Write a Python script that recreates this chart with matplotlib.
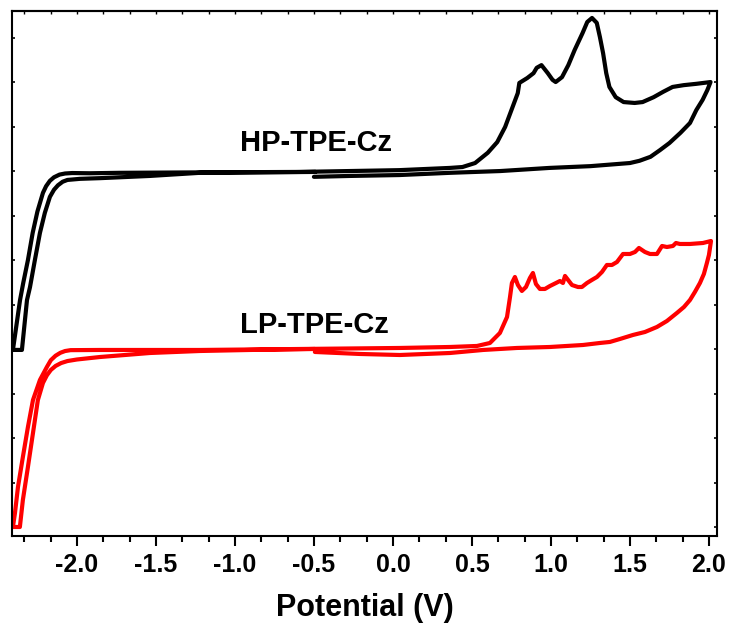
import matplotlib
matplotlib.use("Agg")
import matplotlib.pyplot as plt
from matplotlib.ticker import MultipleLocator, AutoMinorLocator, NullFormatter

plt.rcParams['font.family'] = ['Liberation Sans', 'DejaVu Sans']
plt.rcParams['font.weight'] = 'bold'

# HP-TPE-Cz: forward scan from -0.5 V, return scan, second sweep back
hp_x = [-0.50, -0.27, 0.04, 0.36, 0.68, 0.99, 1.25, 1.50, 1.56, 1.63, 1.69, 1.75, 1.82, 1.88, 1.92, 1.96, 1.99, 2.01,
        1.92, 1.84, 1.77, 1.71, 1.65, 1.58, 1.53, 1.46, 1.41, 1.37, 1.35, 1.33, 1.31, 1.29, 1.26, 1.23, 1.20,
        1.15, 1.11, 1.07, 1.03, 1.01, 0.98, 0.94, 0.91, 0.89, 0.85, 0.80, 0.79, 0.75, 0.71, 0.66, 0.60, 0.52,
        0.44, 0.36, 0.04, -0.59, -1.22, -1.73, -1.92, -2.03, -2.075, -2.11, -2.145, -2.171, -2.195, -2.215,
        -2.25, -2.28, -2.31, -2.34, -2.36, -2.405,
        -2.348, -2.316, -2.297, -2.266, -2.234, -2.203, -2.171, -2.145, -2.12, -2.09, -2.06, -1.98, -1.854,
        -1.538, -1.222, -0.49]
hp_y = [7.88, 7.90, 7.92, 7.97, 8.01, 8.08, 8.12, 8.19, 8.24, 8.33, 8.48, 8.64, 8.87, 9.09, 9.38, 9.61, 9.83, 10.01,
        9.97, 9.94, 9.90, 9.79, 9.67, 9.56, 9.54, 9.56, 9.67, 9.90, 10.21, 10.66, 11.02, 11.34, 11.45, 11.36, 11.11,
        10.73, 10.39, 10.12, 10.01, 10.06, 10.21, 10.39, 10.33, 10.21, 10.10, 9.99, 9.76, 9.38, 9.00, 8.66, 8.42, 8.19,
        8.10, 8.08, 8.03, 7.99, 7.98, 7.97, 7.96, 7.965, 7.955, 7.93, 7.87, 7.79, 7.67, 7.52,
        7.10, 6.62, 6.01, 5.49, 5.11, 3.99,
        3.99, 5.11, 5.40, 6.01, 6.62, 7.07, 7.43, 7.59, 7.69, 7.77, 7.81, 7.835, 7.85,
        7.90, 7.97, 7.99]

# LP-TPE-Cz
lp_x = [-0.494, -0.209, 0.044, 0.361, 0.570, 0.785, 0.994, 1.203, 1.310, 1.373, 1.437, 1.519, 1.595, 1.671, 1.734,
        1.797, 1.842, 1.880, 1.911, 1.943, 1.968, 1.987, 2.000, 2.013,
        1.962, 1.880, 1.816, 1.791, 1.772, 1.734, 1.703, 1.671, 1.627, 1.595, 1.557, 1.532, 1.500, 1.456, 1.418,
        1.386, 1.354, 1.323, 1.291, 1.259, 1.228, 1.196, 1.171, 1.133, 1.089, 1.076, 1.057, 1.032, 0.994, 0.962,
        0.930, 0.905, 0.886, 0.867, 0.842, 0.816, 0.791, 0.772, 0.753, 0.741, 0.722, 0.677, 0.614, 0.532, 0.361,
        0.044, -0.589, -1.222, -1.854, -2.040, -2.075, -2.105, -2.135, -2.165, -2.190, -2.234, -2.278, -2.310,
        -2.342, -2.373, -2.392, -2.405,
        -2.361, -2.342, -2.310, -2.278, -2.247, -2.215, -2.190, -2.165, -2.135, -2.100, -2.060, -2.000, -1.854,
        -1.538, -1.222, -0.905, -0.494]
lp_y = [3.944, 3.899, 3.876, 3.921, 3.989, 4.034, 4.056, 4.101, 4.146, 4.169, 4.236, 4.326, 4.393, 4.506, 4.640,
        4.820, 4.955, 5.112, 5.292, 5.494, 5.697, 5.944, 6.124, 6.438,
        6.393, 6.371, 6.371, 6.393, 6.326, 6.303, 6.326, 6.146, 6.146, 6.191, 6.281, 6.191, 6.146, 6.146, 5.966,
        5.899, 5.899, 5.742, 5.629, 5.562, 5.494, 5.404, 5.404, 5.449, 5.652, 5.494, 5.539, 5.494, 5.427, 5.360,
        5.360, 5.472, 5.719, 5.607, 5.404, 5.315, 5.449, 5.629, 5.494, 5.180, 4.730, 4.371, 4.146, 4.079, 4.056,
        4.034, 4.011, 3.989, 3.989, 3.985, 3.965, 3.925, 3.860, 3.760, 3.607, 3.315, 2.865, 2.258,
        1.584, 0.910, 0.326, 0.011,
        0.011, 0.618, 1.360, 2.124, 2.865, 3.247, 3.420, 3.540, 3.630, 3.695, 3.740, 3.775, 3.831,
        3.921, 3.966, 3.989, 4.011]

fig = plt.figure(figsize=(7.30, 6.31), dpi=100)
ax = fig.add_axes([0.0164, 0.1506, 0.9658, 0.832])

ax.plot(hp_x, hp_y, color='black', lw=3.0, solid_joinstyle='round', solid_capstyle='round')
ax.plot(lp_x, lp_y, color='#ff0000', lw=3.0, solid_joinstyle='round', solid_capstyle='round')

ax.text(-0.49, 8.64, 'HP-TPE-Cz', fontsize=21, fontweight='bold', ha='center', va='center')
ax.text(-0.50, 4.55, 'LP-TPE-Cz', fontsize=21, fontweight='bold', ha='center', va='center')

ax.set_xlim(-2.411, 2.051)
ax.set_ylim(-0.191, 11.607)

ax.xaxis.set_major_locator(MultipleLocator(0.5))
ax.xaxis.set_minor_locator(AutoMinorLocator(3))
ax.xaxis.set_major_formatter(plt.FuncFormatter(lambda v, p: f'{v:.1f}'))
ax.yaxis.set_major_locator(MultipleLocator(1))
ax.yaxis.set_major_formatter(NullFormatter())

ax.tick_params(axis='x', which='major', direction='out', length=7, width=1.5, labelsize=18, pad=5)
ax.tick_params(axis='x', which='minor', direction='out', length=4.5, width=1.5)
ax.tick_params(axis='y', which='major', direction='in', length=2.5, width=1.2, left=True, right=True)
for lab in ax.get_xticklabels():
    lab.set_fontweight('bold')

top = ax.secondary_xaxis('top')
top.xaxis.set_major_locator(MultipleLocator(1 / 6))
top.xaxis.set_major_formatter(NullFormatter())
top.tick_params(direction='in', length=2.5, width=1.0)
top.spines['top'].set_linewidth(1.5)

for s in ax.spines.values():
    s.set_linewidth(1.5)

ax.set_xlabel('Potential (V)', fontsize=22, fontweight='bold', labelpad=12)

fig.savefig('out.png', dpi=100)
